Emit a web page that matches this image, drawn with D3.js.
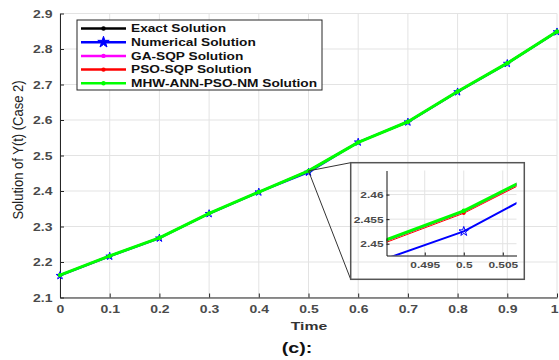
<!DOCTYPE html>
<html><head><meta charset="utf-8">
<script src="https://cdn.jsdelivr.net/npm/d3@7"></script>
<style>body{margin:0;background:#fff}svg{display:block}text{font-family:"Liberation Sans",Arial,sans-serif}</style>
</head><body><svg id="c" width="559" height="360"></svg>
<script>
const times = [0,0.1,0.2,0.3,0.4,0.5,0.6,0.7,0.8,0.9,1];
const exactSol = [2.1630,2.2170,2.2680,2.3370,2.3970,2.4566,2.5370,2.5950,2.6800,2.7600,2.8490];
const numericalSol = [2.1615,2.2160,2.2670,2.3360,2.3968,2.4525,2.5375,2.5940,2.6790,2.7590,2.8480];
const gaSqpSol = [2.1630,2.2170,2.2680,2.3370,2.3970,2.4566,2.5370,2.5950,2.6800,2.7600,2.8490];
const psoSqpSol = [2.1626,2.2166,2.2676,2.3366,2.3966,2.4562,2.5366,2.5946,2.6796,2.7596,2.8486];
const mhwSol = [2.1631,2.2171,2.2681,2.3371,2.3971,2.4567,2.5371,2.5951,2.6801,2.7601,2.8491];
const seriesNames = ["Exact Solution","Numerical Solution","GA-SQP Solution","PSO-SQP Solution","MHW-ANN-PSO-NM Solution"];
const seriesColors = ["#000000","#0000ff","#ff00ff","#ff0000","#00ff00"];
const xTicks = [0,0.1,0.2,0.3,0.4,0.5,0.6,0.7,0.8,0.9,1];
const yTicks = [2.1,2.2,2.3,2.4,2.5,2.6,2.7,2.8,2.9];
const insetXTicks = [0.495,0.5,0.505];
const insetYTicks = [2.45,2.455,2.46];
const xLabel = "Time", yLabel = "Solution of Y(t) (Case 2)", caption = "(c):";

const allSeries = [exactSol, numericalSol, gaSqpSol, psoSqpSol, mhwSol];
const widths = [2, 2, 2, 1, 3];
const SX = 1.4;
const svg = d3.select("#c");
const x = d3.scaleLinear().domain([0,1]).range([60,557]);
const y = d3.scaleLinear().domain([2.1,2.9]).range([297.5,13.5]);
const gridC = "#e3e3e3", axC = "#262626", tickTxt = "#4a4a4a";

// grid
svg.append("g").selectAll("line").data(xTicks).join("line")
  .attr("x1",d=>x(d)).attr("x2",d=>x(d)).attr("y1",y(2.1)).attr("y2",y(2.9))
  .attr("stroke",gridC).attr("stroke-width",1);
svg.append("g").selectAll("line").data(yTicks).join("line")
  .attr("y1",d=>y(d)).attr("y2",d=>y(d)).attr("x1",x(0)).attr("x2",x(1))
  .attr("stroke",gridC).attr("stroke-width",1);

// axes
const xa = svg.append("g").attr("transform",`translate(0,${y(2.1)})`)
  .call(d3.axisBottom(x).tickValues(xTicks).tickFormat(d3.format("")).tickSizeInner(-4).tickSizeOuter(0).tickPadding(0));
xa.select(".domain").attr("stroke",axC);
xa.selectAll(".tick line").attr("stroke",axC);
xa.selectAll(".tick text").attr("y",15.5).attr("dy",null).attr("transform",`scale(${SX},1)`)
  .attr("fill",tickTxt).attr("font-size",10).attr("font-weight","bold");
xa.selectAll(".tick text").filter(d=>d===1).attr("text-anchor","end").attr("x",1/SX);
const ya = svg.append("g").attr("transform",`translate(${x(0)},0)`)
  .call(d3.axisLeft(y).tickValues(yTicks).tickFormat(d3.format(".1f")).tickSizeInner(-4).tickSizeOuter(0).tickPadding(0));
ya.select(".domain").attr("stroke",axC);
ya.selectAll(".tick line").attr("stroke",axC);
ya.selectAll(".tick text").attr("x",-7.5/SX).attr("dy","0.35em").attr("transform",`scale(${SX},1)`)
  .attr("fill",tickTxt).attr("font-size",10).attr("font-weight","bold");

// lines
function drawSeries(g, xs, ys, clip, starSize) {
  allSeries.forEach((vals,i)=>{
    const data = times.map((t,j)=>[t,vals[j]]);
    const line = d3.line().x(d=>xs(d[0])).y(d=>ys(d[1]));
    const gg = g.append("g");
    if (clip) gg.attr("clip-path",`url(#${clip})`);
    gg.append("path").datum(data).attr("d",line).attr("fill","none")
      .attr("stroke",seriesColors[i]).attr("stroke-width",widths[i]).attr("stroke-linejoin","round");
    data.forEach(d=>{
      if (i===1) {
        gg.append("path").attr("d",d3.symbol(d3.symbolStar,starSize)())
          .attr("transform",`translate(${xs(d[0])},${ys(d[1])})`).attr("fill","none").attr("stroke","#0000ff").attr("stroke-width",1);
      } else {
        gg.append("circle").attr("cx",xs(d[0])).attr("cy",ys(d[1])).attr("r",i===4?2.2:1.8).attr("fill",seriesColors[i]);
      }
    });
  });
}
drawSeries(svg, x, y, null, 18);

// connectors
const ax0 = x(0.5), ay0 = y(exactSol[5]);
const box = {x0:350.7,y0:162.7,x1:524.3,y1:279.3};
svg.append("line").attr("x1",ax0).attr("y1",ay0).attr("x2",box.x0).attr("y2",box.y0).attr("stroke","#333").attr("stroke-width",1);
svg.append("line").attr("x1",ax0).attr("y1",ay0).attr("x2",box.x0).attr("y2",box.y1).attr("stroke","#333").attr("stroke-width",1);
svg.append("rect").attr("x",box.x0).attr("y",box.y0).attr("width",box.x1-box.x0).attr("height",box.y1-box.y0)
  .attr("fill","none").attr("stroke","#555").attr("stroke-width",1.5);

// inset
const ix = d3.scaleLinear().domain([0.4901,0.50676]).range([386.5,516.5]);
const iy = d3.scaleLinear().domain([2.4476,2.4649]).range([255.5,170.5]);
svg.append("defs").append("clipPath").attr("id","ic").append("rect")
  .attr("x",386.5).attr("y",170.5).attr("width",130).attr("height",85);
const ig = svg.append("g");
ig.selectAll(".gx").data(insetXTicks).join("line").attr("x1",d=>ix(d)).attr("x2",d=>ix(d)).attr("y1",170.5).attr("y2",255.5).attr("stroke",gridC);
ig.selectAll(".gy").data(insetYTicks).join("line").attr("y1",d=>iy(d)).attr("y2",d=>iy(d)).attr("x1",386.5).attr("x2",516.5).attr("stroke",gridC);
drawSeries(ig, ix, iy, "ic", 28);
const ixa = ig.append("g").attr("transform","translate(0,255.5)")
  .call(d3.axisBottom(ix).tickValues(insetXTicks).tickFormat(d3.format("")).tickSizeInner(-3).tickSizeOuter(0).tickPadding(0));
ixa.select(".domain").attr("stroke","#111");
ixa.selectAll(".tick line").attr("stroke","#111");
ixa.selectAll(".tick text").attr("y",12.5).attr("dy",null).attr("transform",`scale(${SX},1)`)
  .attr("fill",tickTxt).attr("font-size",8.5).attr("font-weight","bold");
const iya = ig.append("g").attr("transform","translate(386.5,0)")
  .call(d3.axisLeft(iy).tickValues(insetYTicks).tickFormat(d3.format("")).tickSizeInner(-3).tickSizeOuter(0).tickPadding(0));
iya.select(".domain").attr("stroke","#111");
iya.selectAll(".tick line").attr("stroke","#111");
iya.selectAll(".tick text").attr("x",-3/SX).attr("dy","0.35em").attr("transform",`scale(${SX},1)`)
  .attr("fill",tickTxt).attr("font-size",8.5).attr("font-weight","bold");

// legend
svg.append("rect").attr("x",77).attr("y",20).attr("width",245).attr("height",70)
  .attr("fill","#fff").attr("stroke","#262626").attr("stroke-width",1);
seriesNames.forEach((nm,i)=>{
  const yy = 28.5 + i*13.7;
  svg.append("line").attr("x1",81).attr("x2",126).attr("y1",yy).attr("y2",yy)
    .attr("stroke",seriesColors[i]).attr("stroke-width",2.5);
  if (i===1) svg.append("path").attr("d",d3.symbol(d3.symbolStar,40)()).attr("transform",`translate(103.5,${yy})`)
    .attr("fill","#0000ff").attr("stroke","#0000ff").attr("stroke-width",1);
  else svg.append("circle").attr("cx",103.5).attr("cy",yy).attr("r",2.2).attr("fill",seriesColors[i]);
  svg.append("text").attr("transform",`translate(131,${yy+3.6}) scale(1.37,1)`)
    .attr("font-size",10).attr("font-weight","bold").attr("fill","#111").text(nm);
});

// labels
svg.append("text").attr("transform",`translate(309,330) scale(1.37,1)`).attr("text-anchor","middle")
  .attr("font-size",11.5).attr("font-weight","bold").attr("fill","#333").text(xLabel);
svg.append("text").attr("transform",`translate(297,353) scale(1.4,1)`).attr("text-anchor","middle")
  .attr("font-size",14).attr("font-weight","bold").attr("fill","#111").text(caption);
svg.append("text").attr("transform",`translate(22.5,150) rotate(-90) scale(1,1.15)`).attr("text-anchor","middle")
  .attr("font-size",13).attr("fill","#222").text(yLabel);
</script></body></html>
